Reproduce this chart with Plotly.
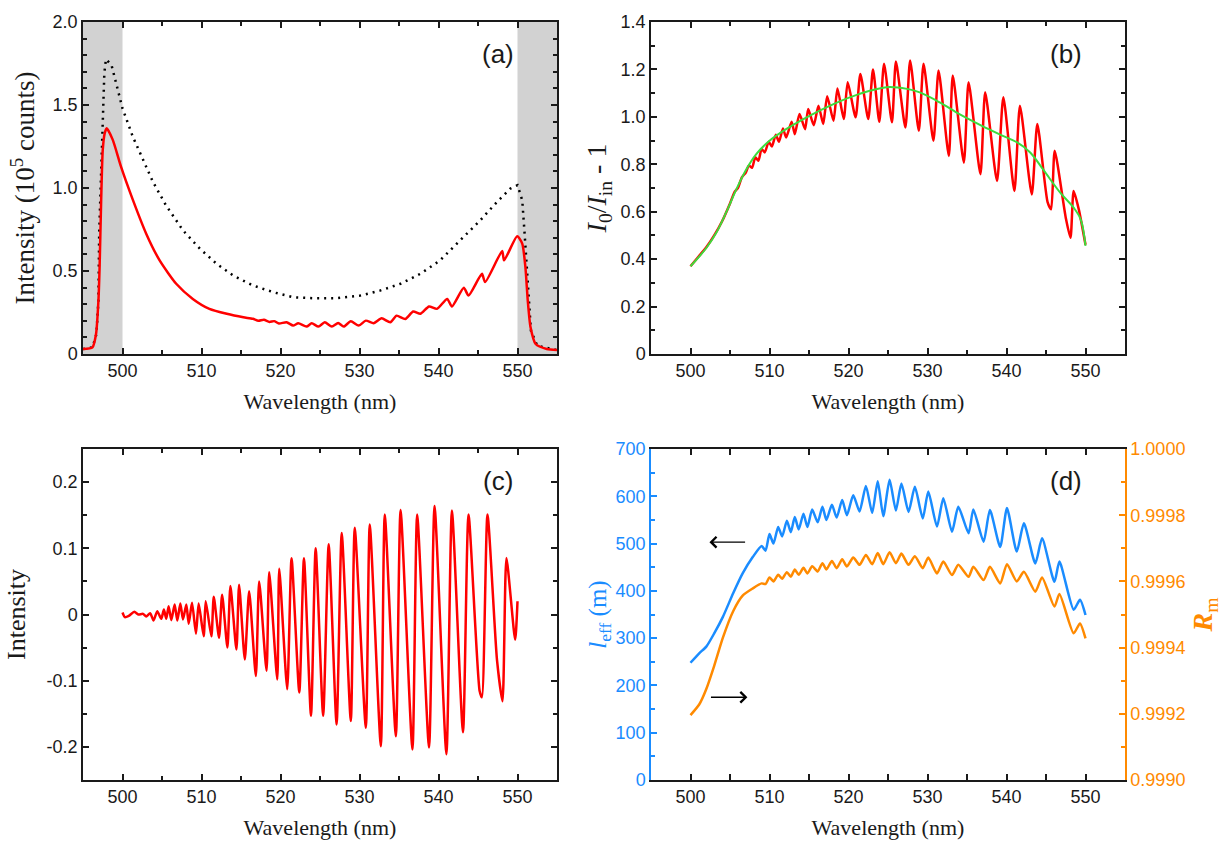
import plotly.graph_objects as go

# ---------------- data ----------------
# (a) transmitted spectrum (red) and incident spectrum (dotted), 10^5 counts
a_wl = [495.0, 496.2, 496.65, 496.95, 497.1, 497.3, 497.5, 497.75, 498.0, 498.77, 499.8,
        501.3, 503.0, 504.7, 506.8, 508.9, 511.0, 513.2, 515.3, 516.5, 517.2, 517.9, 518.6,
        519.2, 519.8, 520.77, 521.6, 522.25, 523.3, 523.95, 524.8, 525.6, 526.5, 527.3,
        528.0, 528.9, 529.9, 530.8, 531.8, 532.8, 533.9, 534.7, 535.8, 536.8, 537.7, 538.8,
        539.8, 541.1, 541.7, 543.2, 543.8, 545.5, 545.9, 548.06, 548.3, 549.96, 550.6,
        551.0, 551.3, 551.65, 552.3, 553.7, 555.0]
a_int = [0.03, 0.04, 0.12, 0.32, 0.52, 0.93, 1.23, 1.33, 1.36, 1.29, 1.13,
         0.93, 0.725, 0.564, 0.423, 0.332, 0.272, 0.242, 0.221, 0.212, 0.200, 0.206, 0.193,
         0.198, 0.184, 0.191, 0.171, 0.185, 0.165, 0.185, 0.165, 0.191, 0.165, 0.187,
         0.165, 0.197, 0.171, 0.201, 0.185, 0.215, 0.191, 0.231, 0.211, 0.256, 0.242, 0.286,
         0.272, 0.332, 0.286, 0.399, 0.352, 0.483, 0.433, 0.620, 0.564, 0.709, 0.665,
         0.523, 0.322, 0.161, 0.060, 0.030, 0.024]
a_ref_wl = [495.0, 496.2, 496.7, 496.95, 497.05, 497.3, 497.5, 497.7, 497.9, 498.6, 499.2,
            500.0, 501.3, 502.6, 503.85, 505.5, 507.65, 509.8, 511.9, 514.0, 516.5, 519.1,
            521.6, 524.2, 527.1, 530.1, 532.6, 535.2, 537.7, 540.2, 542.8, 545.3, 547.4,
            549.1, 550.0, 550.6, 550.9, 551.15, 551.4, 551.7, 552.5, 555.0]
a_ref_int = [0.03, 0.04, 0.12, 0.32, 0.73, 1.13, 1.49, 1.69, 1.776, 1.742, 1.63,
             1.48, 1.31, 1.17, 1.037, 0.896, 0.745, 0.634, 0.544, 0.473, 0.413, 0.372,
             0.342, 0.336, 0.336, 0.352, 0.382, 0.423, 0.483, 0.564, 0.685, 0.806, 0.916,
             0.997, 1.017, 0.926, 0.725, 0.523, 0.322, 0.14, 0.05, 0.024]
shaded_bands = [(495, 500), (550, 555)]

# (b) I0/Iin - 1 (red) and its smoothed envelope (green)
b_wl = [500.0, 501.0, 502.0, 503.0, 504.0, 505.0, 505.6, 506.0, 506.5, 507.0, 507.4, 507.8,
        508.2, 508.6, 509.0, 509.4, 509.9, 510.3, 510.8, 511.2,
        511.7, 512.1, 512.8, 513.2, 513.8, 514.5, 514.9, 515.6, 516.2, 516.8, 517.3, 518.1,
        518.6, 519.4, 519.9, 520.9, 521.5, 522.5, 523.1, 523.9, 524.5, 525.5, 526.0, 527.2,
        527.8, 528.9, 529.5, 530.75, 531.4, 532.7, 533.2, 534.6, 535.2, 536.7, 537.3, 538.8,
        539.6, 541.0, 541.7, 543.2, 543.9, 545.2, 545.65, 546.1, 547.5, 548.1, 548.5, 549.15,
        550.0]
b_ratio = [0.37, 0.41, 0.45, 0.50, 0.56, 0.635, 0.685, 0.70, 0.745, 0.765, 0.795, 0.785,
           0.83, 0.815, 0.865, 0.85, 0.895, 0.875, 0.925, 0.895,
           0.951, 0.913, 0.979, 0.927, 1.012, 0.948, 1.033, 0.965, 1.047, 0.970, 1.087, 0.984,
           1.120, 0.991, 1.146, 0.998, 1.181, 0.991, 1.200, 0.979, 1.224, 0.977, 1.233, 0.955,
           1.238, 0.941, 1.224, 0.899, 1.195, 0.835, 1.174, 0.807, 1.146, 0.758, 1.104, 0.729,
           1.083, 0.687, 1.047, 0.673, 0.970, 0.640, 0.610, 0.857, 0.575, 0.490, 0.687, 0.610,
           0.461]
b_fit_wl = [500.0, 502.0, 503.26, 504.5, 505.8, 507.07, 508.3, 510.0, 512.1, 514.7, 518.1,
            521.4, 524.8, 527.4, 529.1, 531.6, 534.1, 536.7, 539.2, 541.3, 543.0, 544.7,
            546.8, 548.5, 549.4, 550.0]
b_fit = [0.37, 0.447, 0.511, 0.596, 0.694, 0.779, 0.842, 0.899, 0.948, 0.998, 1.054,
         1.097, 1.125, 1.118, 1.102, 1.060, 1.010, 0.965, 0.925, 0.893, 0.850, 0.775,
         0.680, 0.617, 0.567, 0.456]

# (c) oscillating component of the spectrum
c_wl = [500.0, 500.3, 500.8, 501.5, 502.0, 502.6, 503.0, 503.5, 503.93, 504.4, 504.91,
        505.24, 505.54, 505.84, 506.18, 506.6, 506.94, 507.32, 507.66, 508.08, 508.38,
        508.8, 509.3, 509.64, 510.28, 510.53, 511.25, 511.55, 512.22, 512.61, 513.28,
        513.66, 514.42, 514.76, 515.48, 516.03, 516.88, 517.3, 518.23, 518.57, 519.59,
        519.84, 520.85, 521.4, 522.38, 522.97, 523.86, 524.45, 525.4, 526.1, 527.1,
        527.75, 528.9, 529.4, 530.8, 531.3, 532.7, 533.2, 534.6, 535.2, 536.7, 537.3,
        538.8, 539.5, 541.0, 541.7, 543.1, 543.8, 545.2, 545.5, 546.2, 547.4, 548.1,
        548.6, 549.7, 550.0]
c_int = [0.003, -0.004, -0.002, 0.004, 0.000, 0.001, -0.003, 0.002, -0.009, 0.005, -0.0065,
         0.0075, -0.0065, 0.0126, -0.0085, 0.015, -0.009, 0.0166, -0.0075, 0.015, -0.014,
         0.0176, -0.029, 0.0166, -0.033, 0.020, -0.033, 0.0267, -0.035, 0.030, -0.050,
         0.043, -0.053, 0.045, -0.068, 0.035, -0.093, 0.050, -0.085, 0.064, -0.098,
         0.069, -0.113, 0.085, -0.118, 0.085, -0.153, 0.100, -0.153, 0.106, -0.166,
         0.123, -0.161, 0.131, -0.171, 0.136, -0.199, 0.151, -0.184, 0.158, -0.204, 0.151,
         -0.201, 0.164, -0.211, 0.157, -0.178, 0.151, -0.115, -0.125, 0.151, -0.068, -0.131,
         0.0855, -0.038, 0.020]

# (d) effective length l_eff (m, left axis) and mirror reflectivity R_m (right axis)
d_wl = [500.0, 501.1, 502.0, 503.0, 504.1, 505.4, 506.6, 507.9, 509.0, 509.5, 510.0,
        510.5, 511.1, 511.6, 512.2, 512.7, 513.2, 513.7, 514.3, 514.8, 515.4, 516.1,
        516.7, 517.2, 517.9, 518.5, 519.2, 519.8, 520.6, 521.4, 522.2, 523.0, 523.7,
        524.4, 525.2, 526.0, 526.7, 527.6, 528.4, 529.4, 530.1, 531.2, 532.0, 533.1,
        533.9, 535.2, 535.8, 537.1, 537.9, 539.2, 540.06, 541.3, 542.2, 543.65, 544.5,
        546.07, 546.7, 548.5, 549.3, 550.0]
d_leff = [248, 268, 282, 310, 345, 395, 437, 472, 495, 485, 520,
          500, 535, 515, 548, 524, 556, 530, 563, 535, 572, 545,
          578, 550, 582, 555, 592, 560, 602, 568, 622, 565, 632,
          558, 635, 570, 627, 567, 620, 553, 610, 536, 596, 525,
          578, 522, 572, 504, 571, 493, 575, 483, 543, 458, 511,
          419, 462, 360, 381, 349]
d_rm = [0.999196, 0.999228, 0.999275, 0.999345, 0.999430, 0.999510, 0.999557, 0.999579,
        0.999594, 0.999592, 0.999612,
        0.999600, 0.999620, 0.999608, 0.999628, 0.999614, 0.999636, 0.999620, 0.999641,
        0.999624, 0.999646, 0.999630, 0.999655, 0.999636, 0.999662, 0.999640, 0.999667,
        0.999645, 0.999672, 0.999650, 0.999680, 0.999652, 0.999686, 0.999652, 0.999688,
        0.999655, 0.999684, 0.999650, 0.999676, 0.999640, 0.999672, 0.999624, 0.999660,
        0.999619, 0.999650, 0.999614, 0.999644, 0.999604, 0.999644, 0.999594, 0.999652,
        0.999600, 0.999629, 0.999569, 0.999612, 0.999524, 0.999562, 0.999443, 0.999473,
        0.999428]

# tick positions and labels
wl_ticks = [500, 510, 520, 530, 540, 550]
wl_ticklabels = ["500", "510", "520", "530", "540", "550"]
a_yticks = [0, 0.5, 1.0, 1.5, 2.0]
a_yticklabels = ["0", "0.5", "1.0", "1.5", "2.0"]
b_yticks = [0, 0.2, 0.4, 0.6, 0.8, 1.0, 1.2, 1.4]
b_yticklabels = ["0", "0.2", "0.4", "0.6", "0.8", "1.0", "1.2", "1.4"]
c_yticks = [-0.2, -0.1, 0, 0.1, 0.2]
c_yticklabels = ["-0.2", "-0.1", "0", "0.1", "0.2"]
d_lticks = [0, 100, 200, 300, 400, 500, 600, 700]
d_lticklabels = ["0", "100", "200", "300", "400", "500", "600", "700"]
d_rticks = [0.9990, 0.9992, 0.9994, 0.9996, 0.9998, 1.0000]
d_rticklabels = ["0.9990", "0.9992", "0.9994", "0.9996", "0.9998", "1.0000"]

# ---------------- styling ----------------
RED = "#FF0000"
GREEN = "#3CDC3C"
BLUE = "#1A8CFF"
ORANGE = "#FF8A00"
INK = "#1a1a1a"
SANS = "Liberation Sans, Arial, sans-serif"
SERIF = "Liberation Serif, Times New Roman, serif"
tick_font = dict(family=SANS, size=18, color=INK)
title_font = dict(family=SERIF, size=22, color=INK)

X_LEFT = [83 / 1225, 557 / 1225]
X_RIGHT = [651 / 1225, 1125 / 1225]
Y_TOP = [(841 - 354) / 841, (841 - 22) / 841]
Y_BOTTOM = [(841 - 780) / 841, (841 - 449) / 841]


def x_axis(domain, anchor):
    return dict(domain=domain, anchor=anchor, range=[495, 555], automargin=False,
                tickmode="array", tickvals=wl_ticks, ticktext=wl_ticklabels,
                ticks="inside", ticklen=6, tickwidth=1.5, tickcolor=INK,
                minor=dict(tickmode="linear", tick0=495, dtick=5, ticks="inside",
                           ticklen=4, tickwidth=1.5, tickcolor=INK, showgrid=False),
                showline=True, linecolor=INK, linewidth=1.5, mirror="allticks",
                showgrid=False, zeroline=False, tickfont=tick_font,
                title=dict(text="Wavelength (nm)", font=title_font, standoff=13))


def y_axis(domain, anchor, rng, vals, labels, minor_step, title, title_size,
           color=INK, side="left", mirror="allticks", overlaying=None, standoff=8):
    ax = dict(domain=domain, anchor=anchor, range=rng, side=side, automargin=False,
              tickmode="array", tickvals=vals, ticktext=labels,
              ticks="inside", ticklen=6, tickwidth=1.5, tickcolor=color,
              minor=dict(tickmode="linear", tick0=rng[0], dtick=minor_step, ticks="inside",
                         ticklen=4, tickwidth=1.5, tickcolor=color, showgrid=False),
              showline=True, linecolor=color, linewidth=1.5, mirror=mirror,
              showgrid=False, zeroline=False,
              tickfont=dict(family=SANS, size=18, color=color),
              title=dict(text=title, font=dict(family=SERIF, size=title_size, color=color),
                         standoff=standoff))
    if overlaying:
        ax["overlaying"] = overlaying
    return ax


fig = go.Figure()

# (a)
fig.add_trace(go.Scatter(x=a_ref_wl, y=a_ref_int, mode="lines", xaxis="x", yaxis="y",
                         line=dict(color="black", width=2.5, dash="2px,5px")))
fig.add_trace(go.Scatter(x=a_wl, y=a_int, mode="lines", xaxis="x", yaxis="y",
                         line=dict(color=RED, width=2.5, shape="spline", smoothing=0.6)))
# (b)
fig.add_trace(go.Scatter(x=b_wl, y=b_ratio, mode="lines", xaxis="x2", yaxis="y2",
                         line=dict(color=RED, width=2.5, shape="spline", smoothing=0.6)))
fig.add_trace(go.Scatter(x=b_fit_wl, y=b_fit, mode="lines", xaxis="x2", yaxis="y2",
                         line=dict(color=GREEN, width=2, shape="spline")))
# (c)
fig.add_trace(go.Scatter(x=c_wl, y=c_int, mode="lines", xaxis="x3", yaxis="y3",
                         line=dict(color=RED, width=2.5, shape="spline", smoothing=0.6)))
# (d)
fig.add_trace(go.Scatter(x=d_wl, y=d_leff, mode="lines", xaxis="x4", yaxis="y4",
                         line=dict(color=BLUE, width=2.5, shape="spline", smoothing=0.6)))
fig.add_trace(go.Scatter(x=d_wl, y=d_rm, mode="lines", xaxis="x4", yaxis="y5",
                         line=dict(color=ORANGE, width=2.5, shape="spline", smoothing=0.6)))

shapes = [dict(type="rect", xref="x", yref="y domain", x0=lo, x1=hi, y0=0, y1=1,
               fillcolor="#D2D2D2", line=dict(width=0), layer="below")
          for lo, hi in shaded_bands]

annotations = []
for axx, axy, lab in [("x", "y", "(a)"), ("x2", "y2", "(b)"),
                      ("x3", "y3", "(c)"), ("x4", "y4", "(d)")]:
    annotations.append(dict(text=lab, xref=axx + " domain", yref=axy + " domain",
                            x=0.876, y=0.903, xanchor="center", yanchor="middle",
                            showarrow=False, font=dict(family=SANS, size=26, color=INK)))

# arrows pointing to the axis each curve belongs to (d)
arrow_specs = [dict(tail=(507.1, 503), head=(502.4, 503)),
               dict(tail=(502.4, 175), head=(507.2, 175))]
for s in arrow_specs:
    annotations.append(dict(x=s["head"][0], y=s["head"][1], ax=s["tail"][0], ay=s["tail"][1],
                            xref="x4", yref="y4", axref="x4", ayref="y4", text="",
                            showarrow=True, arrowhead=4, arrowsize=1.6, arrowwidth=1.3,
                            arrowcolor="black"))

fig.update_layout(
    width=1225, height=841, margin=dict(l=0, r=0, t=0, b=0, autoexpand=False),
    paper_bgcolor="white", plot_bgcolor="white", showlegend=False,
    xaxis=x_axis(X_LEFT, "y"),
    xaxis2=x_axis(X_RIGHT, "y2"),
    xaxis3=x_axis(X_LEFT, "y3"),
    xaxis4=x_axis(X_RIGHT, "y4"),
    yaxis=y_axis(Y_TOP, "x", [0, 2.0], a_yticks, a_yticklabels, 0.1,
                 "Intensity (10<sup>5</sup> counts)", 27, standoff=10),
    yaxis2=y_axis(Y_TOP, "x2", [0, 1.4], b_yticks, b_yticklabels, 0.1,
                  "<i>I</i><sub>0</sub>/<i>I</i><sub>in</sub> - 1", 28, standoff=6),
    yaxis3=y_axis(Y_BOTTOM, "x3", [-0.25, 0.25], c_yticks, c_yticklabels, 0.05,
                  "Intensity", 26, standoff=14),
    yaxis4=y_axis(Y_BOTTOM, "x4", [0, 700], d_lticks, d_lticklabels, 50,
                  "<i>l</i><sub>eff</sub> (m)", 25, color=BLUE, mirror=False, standoff=2),
    yaxis5=y_axis(Y_BOTTOM, "x4", [0.9990, 1.0000], d_rticks, d_rticklabels, 0.0001,
                  "<b><i>R</i></b><sub>m</sub>", 28, color=ORANGE, side="right",
                  mirror=False, overlaying="y4", standoff=8),
    shapes=shapes, annotations=annotations,
)

fig.write_html("out.html")
